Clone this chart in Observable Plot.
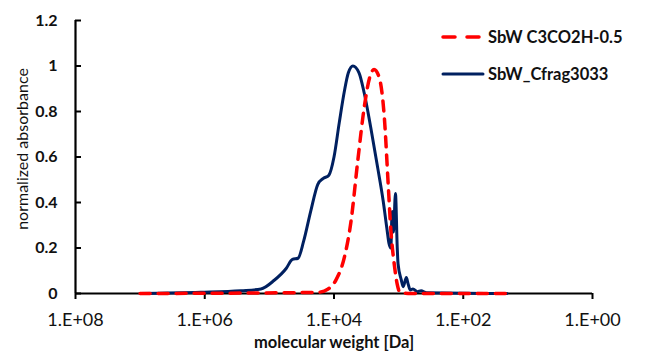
<!DOCTYPE html>
<html>
<head>
<meta charset="utf-8">
<script src="https://cdn.jsdelivr.net/npm/d3@7"></script>
<script src="https://cdn.jsdelivr.net/npm/@observablehq/plot@0.6"></script>
<style>
  html, body { margin: 0; padding: 0; background: #fff; }
  #wrap { position: relative; width: 651px; height: 361px; font-family: Lato, "Open Sans", sans-serif; }
  #legend { position: absolute; left: 440px; top: 26px; }
  .item { display: flex; align-items: center; height: 22px; margin-bottom: 15px; font-weight: bold; font-size: 16.5px; color: #111; }
  .item svg { margin-right: 2px; }
</style>
</head>
<body>
<div id="wrap"></div>
<script>
// Series 1: SbW C3CO2H-0.5 (red dashed)
const redMW  = [1.0e7, 1.8e4, 1.23e4, 9.3e3, 6.9e3, 5.5e3, 4.3e3, 3.4e3, 2.8e3, 2.4e3, 2.0e3, 1.66e3, 1.45e3, 1.32e3, 1.17e3, 1.05e3, 955, 650, 21];
const redAbs = [0, 0.005, 0.02, 0.06, 0.16, 0.31, 0.58, 0.82, 0.95, 0.985, 0.95, 0.77, 0.48, 0.28, 0.13, 0.04, 0.005, 0, 0];

// Series 2: SbW_Cfrag3033 (navy solid)
const blueMW  = [1.0e7, 1.15e6, 2.75e5, 1.35e5, 8.5e4, 5.5e4, 4.4e4, 3.6e4, 2.95e4, 2.3e4, 1.78e4, 1.48e4, 1.2e4, 1.0e4, 8.3e3, 6.9e3, 6.0e3, 5.1e3, 4.1e3, 3.4e3, 2.7e3, 2.1e3, 1.74e3, 1.51e3, 1.41e3, 1.32e3, 1.26e3, 1.2e3, 1.12e3, 1.05e3, 1.02e3, 910, 850, 760, 710, 660, 600, 510, 450, 370, 21];
const blueAbs = [0, 0.005, 0.012, 0.02, 0.057, 0.11, 0.15, 0.155, 0.23, 0.36, 0.48, 0.505, 0.52, 0.60, 0.75, 0.89, 0.97, 1.0, 0.97, 0.88, 0.73, 0.55, 0.41, 0.28, 0.22, 0.20, 0.36, 0.27, 0.44, 0.20, 0.13, 0.06, 0.03, 0.07, 0.04, 0.015, 0.02, 0.008, 0.012, 0.003, 0];

const seriesNames = ["SbW C3CO2H-0.5", "SbW_Cfrag3033"];
const xTicks = [1e8, 1e6, 1e4, 1e2, 1];
const xTickLabels = ["1.E+08", "1.E+06", "1.E+04", "1.E+02", "1.E+00"];
const yTicks = [0, 0.2, 0.4, 0.6, 0.8, 1, 1.2];
const yTickLabels = ["0", "0.2", "0.4", "0.6", "0.8", "1", "1.2"];
const xTitle = "molecular weight [Da]";
const yTitle = "normalized absorbance";

const red = redMW.map((m, i) => ({mw: m, v: redAbs[i]}));
const blue = blueMW.map((m, i) => ({mw: m, v: blueAbs[i]}));
const RED = "#ff0000", NAVY = "#002060";

const chart = Plot.plot({
  width: 651, height: 361,
  marginLeft: 75, marginRight: 59, marginTop: 20, marginBottom: 68,
  style: {fontFamily: "Lato, 'Open Sans', sans-serif", color: "#111", background: "#fff"},
  x: {type: "log", domain: [1e8, 1]},
  y: {domain: [0, 1.2]},
  marks: [
    Plot.axisX({ticks: xTicks, tickFormat: d => xTickLabels[xTicks.indexOf(d)], tickSize: 6, tickPadding: 14, fontSize: 18, label: null, strokeWidth: 2, stroke: "#000"}),
    Plot.axisY({ticks: yTicks, tickFormat: d => yTickLabels[yTicks.indexOf(d)], tickSize: 0, tickPadding: 18, fontSize: 16, fontWeight: "bold", label: null}),
    Plot.axisY({ticks: yTicks, tickSize: 6, dx: 6, text: null, label: null, strokeWidth: 2, stroke: "#000"}),
    Plot.ruleY([0], {stroke: "#000", strokeWidth: 2.2}),
    Plot.ruleX([1e8], {stroke: "#000", strokeWidth: 2.2}),
    Plot.line(blue, {x: "mw", y: "v", stroke: NAVY, strokeWidth: 3, curve: "monotone-x"}),
    Plot.line(red, {x: "mw", y: "v", stroke: RED, strokeWidth: 3.5, strokeDasharray: "10,8", strokeLinecap: "round", curve: "monotone-x"}),
    Plot.text([xTitle], {frameAnchor: "bottom", dy: 54, fontSize: 16.5, fontWeight: "bold", fill: "#111"}),
    Plot.text([yTitle], {frameAnchor: "left", textAnchor: "middle", dx: -53, dy: -8, rotate: -90, fontSize: 16, fill: "#111"})
  ]
});

const wrap = document.getElementById("wrap");
wrap.appendChild(chart);

const legend = document.createElement("div");
legend.id = "legend";
const styles = [
  {stroke: RED, dash: "12,12", w: 3.5},
  {stroke: NAVY, dash: null, w: 3}
];
seriesNames.forEach((name, i) => {
  const s = styles[i];
  const item = document.createElement("div");
  item.className = "item";
  item.innerHTML = `<svg width="46" height="10"><line x1="3" x2="43" y1="5" y2="5" stroke="${s.stroke}" stroke-width="${s.w}" stroke-linecap="round" ${s.dash ? `stroke-dasharray="${s.dash}"` : ""}/></svg><span>${name}</span>`;
  legend.appendChild(item);
});
wrap.appendChild(legend);
</script>
</body>
</html>
